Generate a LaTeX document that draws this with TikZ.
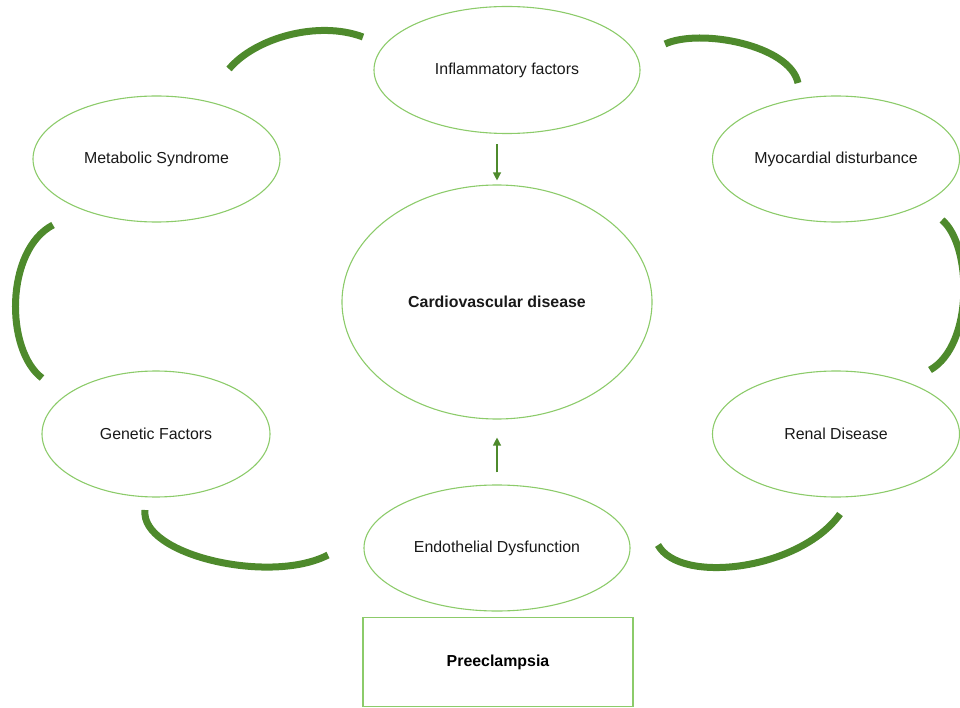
\documentclass[tikz,border=0pt]{standalone}
\usepackage{fontspec}
\setmainfont{Liberation Sans}
\usetikzlibrary{shapes.geometric,arrows.meta}
\definecolor{lightgr}{HTML}{8CCB6A}
\definecolor{darkgr}{HTML}{4E8A2C}
\tikzset{
  oval/.style={ellipse, draw=lightgr, line width=1.1pt, inner sep=0pt, font=\fontsize{15.9}{19}\selectfont, text=black!90},
  boxnode/.style={rectangle, draw=lightgr, line width=1.1pt, inner sep=0pt, font=\fontsize{15.9}{19}\selectfont\bfseries},
  arr/.style={draw=darkgr, line width=1.2pt, -{Triangle[width=8pt,length=8pt]}},
  band/.style={draw=darkgr, line width=7pt}
}
\begin{document}
\begin{tikzpicture}[x=1pt,y=-1pt]
\useasboundingbox (0,0) rectangle (960,708);
% ovals
\node[oval, minimum width=266pt, minimum height=127pt] (inf) at (507,70) {Inflammatory factors};
\node[oval, minimum width=247pt, minimum height=126pt] (met) at (156.5,159) {Metabolic Syndrome};
\node[oval, minimum width=247pt, minimum height=126pt] (myo) at (836,159) {Myocardial disturbance};
\node[oval, minimum width=310pt, minimum height=234pt] (cvd) at (497,302) {\bfseries Cardiovascular disease};
\node[oval, minimum width=228pt, minimum height=126pt] (gen) at (156,434) {Genetic Factors};
\node[oval, minimum width=247pt, minimum height=126pt] (ren) at (836,434) {Renal Disease};
\node[oval, minimum width=266pt, minimum height=126pt] (endo) at (497,548) {Endothelial Dysfunction};
\node[boxnode, minimum width=270pt, minimum height=89pt] (pre) at (498,662) {Preeclampsia};
% arrows
\draw[arr, shorten <=10pt, shorten >=4pt] (cvd.north |- inf.south) -- (cvd.north);
\draw[arr, shorten <=12pt, shorten >=18pt] (endo.north) -- (cvd.south);
% cycle bands
\coordinate (a1) at (229,69);  \coordinate (a2) at (363,37);
\coordinate (b1) at (665,44);  \coordinate (b2) at (798,83);
\coordinate (c1) at (942,220); \coordinate (c2) at (930,370);
\coordinate (d1) at (840,514); \coordinate (d2) at (658,545);
\coordinate (e1) at (145,510); \coordinate (e2) at (328,555);
\coordinate (f1) at (53,225);  \coordinate (f2) at (42,378);
\draw[band] (a1) .. controls (255,38) and (318,20) .. (a2);
\draw[band] (b1) .. controls (700,28) and (790,45) .. (b2);
\draw[band] (c1) .. controls (972,245) and (974,345) .. (c2);
\draw[band] (d1) .. controls (800,570) and (680,585) .. (d2);
\draw[band] (e1) .. controls (140,555) and (270,585) .. (e2);
\draw[band] (f1) .. controls (5,250) and (5,350) .. (f2);
\end{tikzpicture}
\end{document}
